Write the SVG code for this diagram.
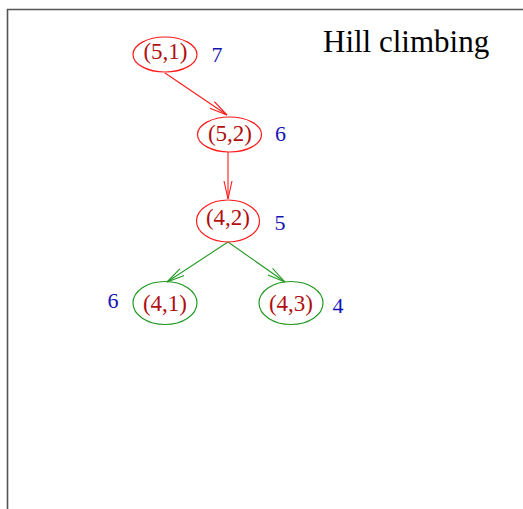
<svg xmlns="http://www.w3.org/2000/svg" width="523" height="509" viewBox="0 0 523 509">
<style>
.node text{font-family:"Liberation Serif",serif;font-size:23px;fill:#b01010;text-anchor:middle}
.num{font-family:"Liberation Serif",serif;font-size:22px;fill:#1414b4;text-anchor:middle}
.r ellipse{fill:none;stroke:#ff1a1a;stroke-width:1.2}
.g ellipse{fill:none;stroke:#229922;stroke-width:1.2}
.er{stroke:#ff1a1a;stroke-width:1.1;fill:none}
.eg{stroke:#229922;stroke-width:1.1;fill:none}
</style>
<defs>
<marker id="ar" markerUnits="userSpaceOnUse" markerWidth="20" markerHeight="12" refX="18" refY="5" orient="auto" viewBox="0 0 20 10">
<path d="M0,1 L18,5 L0,9" fill="none" stroke="#ff1a1a" stroke-width="1.1"/>
</marker>
<marker id="ag" markerUnits="userSpaceOnUse" markerWidth="20" markerHeight="12" refX="18" refY="5" orient="auto" viewBox="0 0 20 10">
<path d="M0,1 L18,5 L0,9" fill="none" stroke="#229922" stroke-width="1.1"/>
</marker>
</defs>
<rect width="523" height="509" fill="#fff"/>
<path d="M7.5,509 V9.5 H523" fill="none" stroke="#555" stroke-width="1.6"/>
<text x="323" y="52" font-family="Liberation Serif,serif" font-size="31" fill="#000">Hill climbing</text>
<g id="edges">
<line class="er" x1="165" y1="73" x2="227" y2="115" marker-end="url(#ar)"/>
<line class="er" x1="228" y1="152" x2="228" y2="199" marker-end="url(#ar)"/>
<line class="eg" x1="228" y1="242" x2="167" y2="282" marker-end="url(#ag)"/>
<line class="eg" x1="228" y1="242" x2="285" y2="282" marker-end="url(#ag)"/>
</g>
<g id="n51" class="node r"><ellipse cx="165" cy="54.5" rx="32" ry="17.5"/><text x="165.5" y="59">(5,1)</text></g>
<g id="n52" class="node r"><ellipse cx="229.5" cy="134.5" rx="32" ry="17.5"/><text x="230" y="141">(5,2)</text></g>
<g id="n42" class="node r"><ellipse cx="228" cy="221" rx="31.5" ry="21"/><text x="228" y="225">(4,2)</text></g>
<g id="n41" class="node g"><ellipse cx="165" cy="303" rx="32" ry="21.5"/><text x="165" y="311">(4,1)</text></g>
<g id="n43" class="node g"><ellipse cx="291" cy="303" rx="32" ry="21.5"/><text x="291" y="311">(4,3)</text></g>
<g id="labels">
<text class="num" x="217" y="62">7</text>
<text class="num" x="280.5" y="141">6</text>
<text class="num" x="280" y="230">5</text>
<text class="num" x="113" y="308">6</text>
<text class="num" x="338" y="313">4</text>
</g>
</svg>
